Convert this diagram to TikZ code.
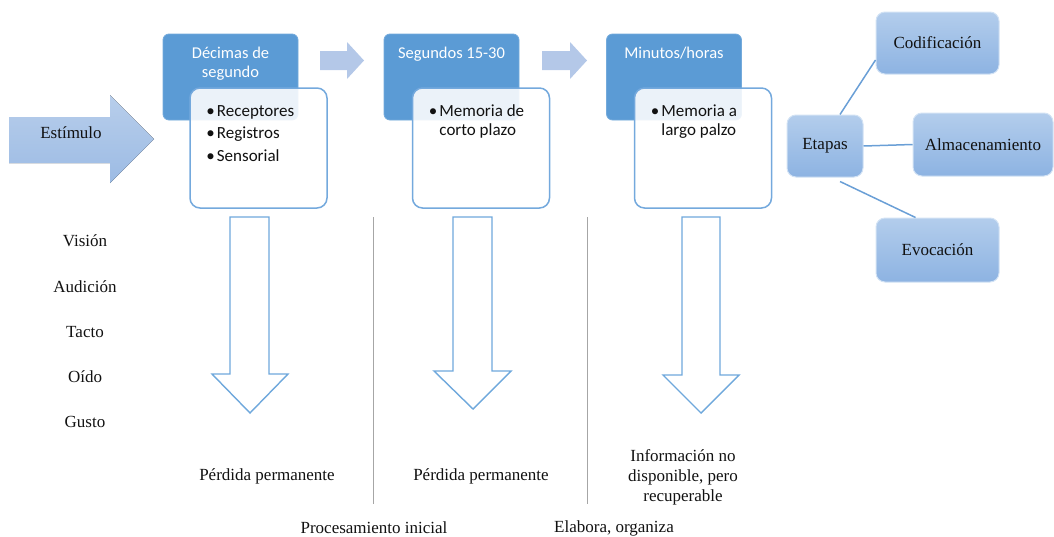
\documentclass[tikz,border=0pt]{standalone}
\usepackage{fontspec}
\setmainfont{Liberation Serif}
\newfontfamily\serfont{Liberation Serif}
\newfontfamily\calfont{Carlito}
\definecolor{hdrblue}{HTML}{5B9BD5}
\definecolor{wborder}{HTML}{74A9DD}
\definecolor{smallarr}{HTML}{B4C8E8}
\definecolor{stimtop}{HTML}{B8CEEB}
\definecolor{stimbot}{HTML}{9CBBE4}
\definecolor{etop}{HTML}{B3CDEC}
\definecolor{ebot}{HTML}{8DB3E2}
\definecolor{eborder}{HTML}{D2E2F4}
\definecolor{linkblue}{HTML}{6A9FD6}
\definecolor{darr}{HTML}{6FA8DC}
\definecolor{vgray}{HTML}{A6A6A6}
\definecolor{txtcol}{HTML}{111111}
\tikzset{
  plaintext/.style={font=\serfont\fontsize{17}{20}\selectfont, text=txtcol, inner sep=0pt},
  hdr/.style={fill=hdrblue, draw=hdrblue!85!white, line width=0.8pt, rounded corners=6pt,
    minimum width=135pt, minimum height=86pt, inner sep=0pt},
  hdrlbl/.style={font=\calfont\fontsize{16.5}{19.5}\selectfont, text=white, inner sep=0pt, anchor=north},
  wbox/.style={fill=white, fill opacity=0.88, text opacity=1, draw=wborder, draw opacity=1,
    line width=1.5pt, rounded corners=10pt, minimum width=137pt, minimum height=120pt, inner sep=0pt},
  wlbl/.style={font=\calfont\fontsize{17}{19.5}\selectfont, text=txtcol, inner sep=0pt, anchor=north west},
  smallarrow/.style={fill=smallarr},
  stimarrow/.style={top color=stimtop, bottom color=stimbot, draw=none},
  downarrow/.style={draw=darr, line width=1.4pt, line join=miter, fill=white},
  stage/.style={top color=etop, bottom color=ebot, draw=eborder, line width=1pt, rounded corners=9pt,
    font=\serfont\fontsize{17}{20}\selectfont, text=txtcol, inner sep=0pt},
  link/.style={draw=linkblue, line width=1.5pt},
  divider/.style={draw=vgray, line width=1pt}
}
\newcommand{\bul}{\makebox[10.5pt][l]{•}}
\begin{document}
\begin{tikzpicture}[x=1pt, y=-1pt]
\useasboundingbox (0,0) rectangle (1054,536);
% stimulus arrow
\fill[stimarrow] (9,117) -- (110,117) -- (110,95) -- (154,139) -- (110,183) -- (110,163) -- (9,163) -- cycle;
\node[plaintext] (estim) at (71,133) {Estímulo};
% small arrows
\fill[smallarrow] (320,51) -- (347,51) -- (347,42) -- (364,60.5) -- (347,79) -- (347,70) -- (320,70) -- cycle;
\fill[smallarrow] (542,51) -- (570,51) -- (570,42) -- (587,60.5) -- (570,79) -- (570,70) -- (542,70) -- cycle;
% headers
\node[hdr, label={[hdrlbl, yshift=-11pt]north:\begin{tabular}{@{}c@{}}Décimas de\\segundo\end{tabular}}] (h1) at (230.5,77) {};
\node[hdr, label={[hdrlbl, yshift=-11pt]north:\begin{tabular}{@{}c@{}}Segundos 15-30\end{tabular}}] (h2) at (451.5,77) {};
\node[hdr, label={[hdrlbl, yshift=-11pt]north:\begin{tabular}{@{}c@{}}Minutos/horas\end{tabular}}] (h3) at (674,77) {};
% white boxes
\node[wbox, label={[wlbl, xshift=17pt, yshift=-15pt]north west:\begin{tabular}{@{}l@{}}\bul Receptores\\[3pt]\bul Registros\\[3pt]\bul Sensorial\end{tabular}}] (b1) at (258.5,148) {};
\node[wbox, label={[wlbl, xshift=17pt, yshift=-15pt]north west:\begin{tabular}{@{}l@{}l@{}}\bul & Memoria de\\ & corto plazo\end{tabular}}] (b2) at (481,148) {};
\node[wbox, label={[wlbl, xshift=17pt, yshift=-15pt]north west:\begin{tabular}{@{}l@{}l@{}}\bul & Memoria a\\ & largo palzo\end{tabular}}] (b3) at (703,148) {};
% down arrows
\draw[downarrow] (230,217) -- (269,217) -- (269,374) -- (288,374) -- (250,413) -- (212,374) -- (230,374) -- cycle;
\draw[downarrow] (453,217) -- (492,217) -- (492,371) -- (511,371) -- (473,409) -- (434,371) -- (453,371) -- cycle;
\draw[downarrow] (682,217) -- (720,217) -- (720,375) -- (739,375) -- (701,413) -- (663,375) -- (682,375) -- cycle;
% dividers
\draw[divider] (373,217) -- (373,504);
\draw[divider] (587,217) -- (587,504);
% senses
\node[plaintext] (vis) at (85,241) {Visión};
\node[plaintext] (aud) at (85,287) {Audición};
\node[plaintext] (tac) at (85,332) {Tacto};
\node[plaintext] (oid) at (85,377) {Oído};
\node[plaintext] (gus) at (85,422) {Gusto};
% outcomes
\node[plaintext] (p1) at (267,476) {Pérdida permanente};
\node[plaintext] (p2) at (481,476) {Pérdida permanente};
\node[plaintext, align=center] (p3) at (683,477) {Información no\\disponible, pero\\recuperable};
\node[plaintext] (proc) at (374,528) {Procesamiento inicial};
\node[plaintext] (elab) at (614,528) {Elabora, organiza};
% stages
\node[stage, minimum width=76pt, minimum height=62pt] (etapas) at (825,146) {Etapas};
\node[stage, minimum width=123pt, minimum height=62pt] (cod) at (937.5,43) {Codificación};
\node[stage, minimum width=140pt, minimum height=63pt] (alm) at (983,144.5) {Almacenamiento};
\node[stage, minimum width=123pt, minimum height=64pt] (evo) at (937.5,250) {Evocación};
\draw[link] ([xshift=15pt]etapas.north) -- ([yshift=-17pt]cod.west);
\draw[link] (etapas.east) -- (alm.west);
\draw[link] ([xshift=15pt,yshift=-4pt]etapas.south) -- ([xshift=-22pt]evo.north);
\end{tikzpicture}
\end{document}
